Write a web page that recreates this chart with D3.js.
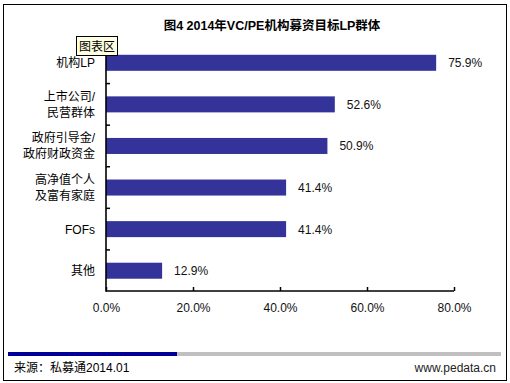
<!DOCTYPE html>
<html><head><meta charset="utf-8">
<script src="https://cdn.jsdelivr.net/npm/d3@7"></script>
<style>
html,body{margin:0;padding:0;background:#fff;}
svg{display:block;font-family:"Liberation Sans",Arial,"Noto Sans CJK SC",sans-serif;}
</style></head>
<body><svg id="c" width="510" height="383"></svg>
<script>
const title = "图4 2014年VC/PE机构募资目标LP群体";
const categories = [["机构LP"],["上市公司/","民营群体"],["政府引导金/","政府财政资金"],["高净值个人","及富有家庭"],["FOFs"],["其他"]];
const values = [75.9, 52.6, 50.9, 41.4, 41.4, 12.9];
const xTicks = [0, 20, 40, 60, 80];
const source = "来源：私募通2014.01";
const site = "www.pedata.cn";

const svg = d3.select("#c");
// outer border
svg.append("rect").attr("x",3.5).attr("y",4.5).attr("width",503).attr("height",376)
  .attr("fill","#fff").attr("stroke","#000").attr("stroke-width",1);

const x = d3.scaleLinear().domain([0,80]).range([106,454]);
const y = d3.scaleBand().domain(d3.range(values.length)).range([42,291.5]).paddingInner(0.615).paddingOuter(0.3075);

// title
svg.append("text").attr("x",272).attr("y",30).attr("text-anchor","middle")
  .attr("font-size",12.5).attr("font-weight","bold").attr("fill","#000").text(title);

// bars
svg.selectAll("rect.bar").data(values).enter().append("rect").attr("class","bar")
  .attr("x",x(0)).attr("y",(d,i)=>y(i)).attr("width",d=>x(d)-x(0)).attr("height",y.bandwidth())
  .attr("fill","#333399");

// value labels
svg.selectAll("text.val").data(values).enter().append("text").attr("class","val")
  .attr("x",d=>x(d)+12).attr("y",(d,i)=>y(i)+y.bandwidth()/2+4.5)
  .attr("font-size",12).attr("fill","#111").text(d=>d.toFixed(1)+"%");

// x axis
const xAxis = d3.axisBottom(x).tickValues(xTicks).tickSize(-4).tickPadding(12).tickFormat(d=>d.toFixed(1)+"%");
const gx = svg.append("g").attr("transform","translate(0,291)").call(xAxis);
gx.select(".domain").attr("stroke","#000").attr("stroke-width",1.6).attr("d","M106,0H454");
gx.selectAll(".tick line").attr("stroke","#000").attr("stroke-width",1.5);
gx.selectAll(".tick text").attr("font-size",12).attr("fill","#111").attr("font-family","\"Liberation Sans\",Arial,sans-serif");

// y axis line and ticks at band boundaries
const step = y.step();
const boundaries = d3.range(1, values.length).map(i => y(i) - (step - y.bandwidth())/2);
svg.append("line").attr("x1",106).attr("x2",106).attr("y1",42).attr("y2",291.8).attr("stroke","#000").attr("stroke-width",1.6);
svg.selectAll("line.yt").data(boundaries).enter().append("line").attr("class","yt")
  .attr("x1",106).attr("x2",110).attr("y1",d=>d).attr("y2",d=>d).attr("stroke","#000").attr("stroke-width",1.5);

// y labels
categories.forEach((lines,i)=>{
  const cy = y(i)+y.bandwidth()/2;
  const n = lines.length, lh = 16;
  const t = svg.append("text").attr("text-anchor","end").attr("font-size",12).attr("fill","#000");
  lines.forEach((ln,j)=>{
    t.append("tspan").attr("x",95).attr("y",cy + (j-(n-1)/2)*lh + 4.5).text(ln);
  });
});

// tooltip "图表区"
svg.append("rect").attr("x",76.5).attr("y",36.5).attr("width",41).attr("height",19)
  .attr("fill","#ffffe1").attr("stroke","#000").attr("stroke-width",1);
svg.append("text").attr("x",97).attr("y",50.5).attr("text-anchor","middle").attr("font-size",12).attr("fill","#000").text("图表区");

// footer bar
svg.append("rect").attr("x",8).attr("y",352).attr("width",169).attr("height",4).attr("fill","#000099");
svg.append("rect").attr("x",177).attr("y",352).attr("width",324).attr("height",4).attr("fill","#c0c0c0");
svg.append("text").attr("x",14).attr("y",372).attr("font-size",12).attr("fill","#000").text(source);
svg.append("text").attr("x",496).attr("y",372).attr("text-anchor","end").attr("font-size",12).attr("fill","#222").text(site);
</script></body></html>
